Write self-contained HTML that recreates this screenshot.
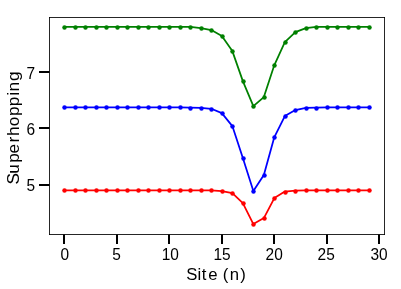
<!DOCTYPE html>
<html><head><meta charset="utf-8"><title>Superhopping</title>
<style>html,body{margin:0;padding:0;background:#fff;}body{width:401px;height:289px;overflow:hidden;font-family:"Liberation Sans",sans-serif;}</style></head>
<body>
<svg width="401" height="289" viewBox="0 0 401 289" style="display:block">
<defs><filter id="ga" filterUnits="userSpaceOnUse" x="0" y="0" width="401" height="289"><feOffset dx="0" dy="0"/></filter></defs>
<rect x="0" y="0" width="401" height="289" fill="#fff"/>
<polyline points="64.35,26.85 74.85,26.85 85.35,26.85 95.85,26.85 106.35,26.85 116.85,26.85 127.35,26.85 137.85,26.85 148.35,26.85 158.85,26.85 169.35,26.85 179.85,26.85 190.35,26.85 200.85,28.10 211.35,30.10 221.85,36.10 232.35,51.10 242.85,81.10 253.35,106.10 263.85,97.10 274.35,65.10 284.85,42.10 295.35,32.10 305.85,28.10 316.35,26.85 326.85,26.85 337.35,26.85 347.85,26.85 358.35,26.85 368.85,26.85" fill="none" stroke="#008000" stroke-width="1.75" stroke-linejoin="round"/>
<g fill="#008000"><circle cx="64.5" cy="27.5" r="2.25"/><circle cx="75.5" cy="27.5" r="2.25"/><circle cx="85.5" cy="27.5" r="2.25"/><circle cx="96.5" cy="27.5" r="2.25"/><circle cx="106.5" cy="27.5" r="2.25"/><circle cx="117.5" cy="27.5" r="2.25"/><circle cx="127.5" cy="27.5" r="2.25"/><circle cx="138.5" cy="27.5" r="2.25"/><circle cx="148.5" cy="27.5" r="2.25"/><circle cx="159.5" cy="27.5" r="2.25"/><circle cx="169.5" cy="27.5" r="2.25"/><circle cx="180.5" cy="27.5" r="2.25"/><circle cx="190.5" cy="27.5" r="2.25"/><circle cx="201.5" cy="28.5" r="2.25"/><circle cx="211.5" cy="30.5" r="2.25"/><circle cx="222.5" cy="36.5" r="2.25"/><circle cx="232.5" cy="51.5" r="2.25"/><circle cx="243.5" cy="81.5" r="2.25"/><circle cx="253.5" cy="106.5" r="2.25"/><circle cx="264.5" cy="97.5" r="2.25"/><circle cx="274.5" cy="65.5" r="2.25"/><circle cx="285.5" cy="42.5" r="2.25"/><circle cx="295.5" cy="32.5" r="2.25"/><circle cx="306.5" cy="28.5" r="2.25"/><circle cx="316.5" cy="27.5" r="2.25"/><circle cx="327.5" cy="27.5" r="2.25"/><circle cx="337.5" cy="27.5" r="2.25"/><circle cx="348.5" cy="27.5" r="2.25"/><circle cx="358.5" cy="27.5" r="2.25"/><circle cx="369.5" cy="27.5" r="2.25"/></g>

<polyline points="64.35,107.45 74.85,107.45 85.35,107.45 95.85,107.45 106.35,107.45 116.85,107.45 127.35,107.45 137.85,107.45 148.35,107.45 158.85,107.45 169.35,107.45 179.85,107.45 190.35,107.60 200.85,107.90 211.35,108.80 221.85,113.10 232.35,126.10 242.85,158.10 253.35,191.10 263.85,175.10 274.35,137.10 284.85,116.10 295.35,110.10 305.85,107.95 316.35,107.60 326.85,107.45 337.35,107.45 347.85,107.45 358.35,107.45 368.85,107.45" fill="none" stroke="#0000ff" stroke-width="1.75" stroke-linejoin="round"/>
<g fill="#0000ff"><circle cx="64.5" cy="107.5" r="2.25"/><circle cx="75.5" cy="107.5" r="2.25"/><circle cx="85.5" cy="107.5" r="2.25"/><circle cx="96.5" cy="107.5" r="2.25"/><circle cx="106.5" cy="107.5" r="2.25"/><circle cx="117.5" cy="107.5" r="2.25"/><circle cx="127.5" cy="107.5" r="2.25"/><circle cx="138.5" cy="107.5" r="2.25"/><circle cx="148.5" cy="107.5" r="2.25"/><circle cx="159.5" cy="107.5" r="2.25"/><circle cx="169.5" cy="107.5" r="2.25"/><circle cx="180.5" cy="107.5" r="2.25"/><circle cx="190.5" cy="108.5" r="2.25"/><circle cx="201.5" cy="108.5" r="2.25"/><circle cx="211.5" cy="109.5" r="2.25"/><circle cx="222.5" cy="113.5" r="2.25"/><circle cx="232.5" cy="126.5" r="2.25"/><circle cx="243.5" cy="158.5" r="2.25"/><circle cx="253.5" cy="191.5" r="2.25"/><circle cx="264.5" cy="175.5" r="2.25"/><circle cx="274.5" cy="137.5" r="2.25"/><circle cx="285.5" cy="116.5" r="2.25"/><circle cx="295.5" cy="110.5" r="2.25"/><circle cx="306.5" cy="108.5" r="2.25"/><circle cx="316.5" cy="108.5" r="2.25"/><circle cx="327.5" cy="107.5" r="2.25"/><circle cx="337.5" cy="107.5" r="2.25"/><circle cx="348.5" cy="107.5" r="2.25"/><circle cx="358.5" cy="107.5" r="2.25"/><circle cx="369.5" cy="107.5" r="2.25"/></g>

<polyline points="64.35,190.40 74.85,190.40 85.35,190.40 95.85,190.40 106.35,190.40 116.85,190.40 127.35,190.40 137.85,190.40 148.35,190.40 158.85,190.40 169.35,190.40 179.85,190.40 190.35,190.40 200.85,190.40 211.35,190.40 221.85,191.10 232.35,193.10 242.85,203.10 253.35,224.10 263.85,218.10 274.35,198.10 284.85,191.60 295.35,190.70 305.85,190.45 316.35,190.40 326.85,190.40 337.35,190.40 347.85,190.40 358.35,190.40 368.85,190.40" fill="none" stroke="#ff0000" stroke-width="1.75" stroke-linejoin="round"/>
<g fill="#ff0000"><circle cx="64.5" cy="190.5" r="2.25"/><circle cx="75.5" cy="190.5" r="2.25"/><circle cx="85.5" cy="190.5" r="2.25"/><circle cx="96.5" cy="190.5" r="2.25"/><circle cx="106.5" cy="190.5" r="2.25"/><circle cx="117.5" cy="190.5" r="2.25"/><circle cx="127.5" cy="190.5" r="2.25"/><circle cx="138.5" cy="190.5" r="2.25"/><circle cx="148.5" cy="190.5" r="2.25"/><circle cx="159.5" cy="190.5" r="2.25"/><circle cx="169.5" cy="190.5" r="2.25"/><circle cx="180.5" cy="190.5" r="2.25"/><circle cx="190.5" cy="190.5" r="2.25"/><circle cx="201.5" cy="190.5" r="2.25"/><circle cx="211.5" cy="190.5" r="2.25"/><circle cx="222.5" cy="191.5" r="2.25"/><circle cx="232.5" cy="193.5" r="2.25"/><circle cx="243.5" cy="203.5" r="2.25"/><circle cx="253.5" cy="224.5" r="2.25"/><circle cx="264.5" cy="218.5" r="2.25"/><circle cx="274.5" cy="198.5" r="2.25"/><circle cx="285.5" cy="192.5" r="2.25"/><circle cx="295.5" cy="191.5" r="2.25"/><circle cx="306.5" cy="190.5" r="2.25"/><circle cx="316.5" cy="190.5" r="2.25"/><circle cx="327.5" cy="190.5" r="2.25"/><circle cx="337.5" cy="190.5" r="2.25"/><circle cx="348.5" cy="190.5" r="2.25"/><circle cx="358.5" cy="190.5" r="2.25"/><circle cx="369.5" cy="190.5" r="2.25"/></g>

<g fill="#000" fill-opacity="0.85"><rect x="49" y="17" width="336" height="1"/><rect x="49" y="234" width="336" height="1"/><rect x="49" y="17" width="1" height="218"/><rect x="384" y="17" width="1" height="218"/></g>
<rect x="63" y="234.5" width="2" height="9.5" fill="#000"/>
<rect x="116" y="234.5" width="2" height="9.5" fill="#000"/>
<rect x="168" y="234.5" width="2" height="9.5" fill="#000"/>
<rect x="221" y="234.5" width="2" height="9.5" fill="#000"/>
<rect x="273" y="234.5" width="2" height="9.5" fill="#000"/>
<rect x="326" y="234.5" width="2" height="9.5" fill="#000"/>
<rect x="378" y="234.5" width="2" height="9.5" fill="#000"/>
<rect x="39" y="71" width="10.5" height="2" fill="#000"/>
<rect x="39" y="127" width="10.5" height="2" fill="#000"/>
<rect x="39" y="184" width="10.5" height="2" fill="#000"/>
<g font-family="Liberation Sans, sans-serif" font-size="16.6" fill="#000" filter="url(#ga)">
<text x="64.85" y="260" text-anchor="middle" textLength="8.6" lengthAdjust="spacingAndGlyphs">0</text>
<text x="116.50" y="260" text-anchor="middle" textLength="8.6" lengthAdjust="spacingAndGlyphs">5</text>
<text x="170.30" y="260" text-anchor="middle" textLength="17.2" lengthAdjust="spacingAndGlyphs">10</text>
<text x="222.10" y="260" text-anchor="middle" textLength="17.2" lengthAdjust="spacingAndGlyphs">15</text>
<text x="274.20" y="260" text-anchor="middle" textLength="17.2" lengthAdjust="spacingAndGlyphs">20</text>
<text x="326.20" y="260" text-anchor="middle" textLength="17.2" lengthAdjust="spacingAndGlyphs">25</text>
<text x="379.00" y="260" text-anchor="middle" textLength="17.2" lengthAdjust="spacingAndGlyphs">30</text>
<text x="35.0" y="78.8" text-anchor="end" textLength="8.6" lengthAdjust="spacingAndGlyphs">7</text>
<text x="35.0" y="134.8" text-anchor="end" textLength="8.6" lengthAdjust="spacingAndGlyphs">6</text>
<text x="35.0" y="190.8" text-anchor="end" textLength="8.6" lengthAdjust="spacingAndGlyphs">5</text>
<text font-size="16.7" x="186.23 197.50 201.81 208.22 218.00 222.80 229.64 240.29" y="280">Site (n)</text>
<text font-size="16.7" transform="translate(18.8,0) rotate(-90) scale(1.03,1)" x="-179.16 -168.81 -158.13 -149.00 -138.39 -132.06 -122.65 -112.60 -103.08 -92.97 -88.83 -78.58" y="0">Superhopping</text>
</g>
</svg>
</body></html>
